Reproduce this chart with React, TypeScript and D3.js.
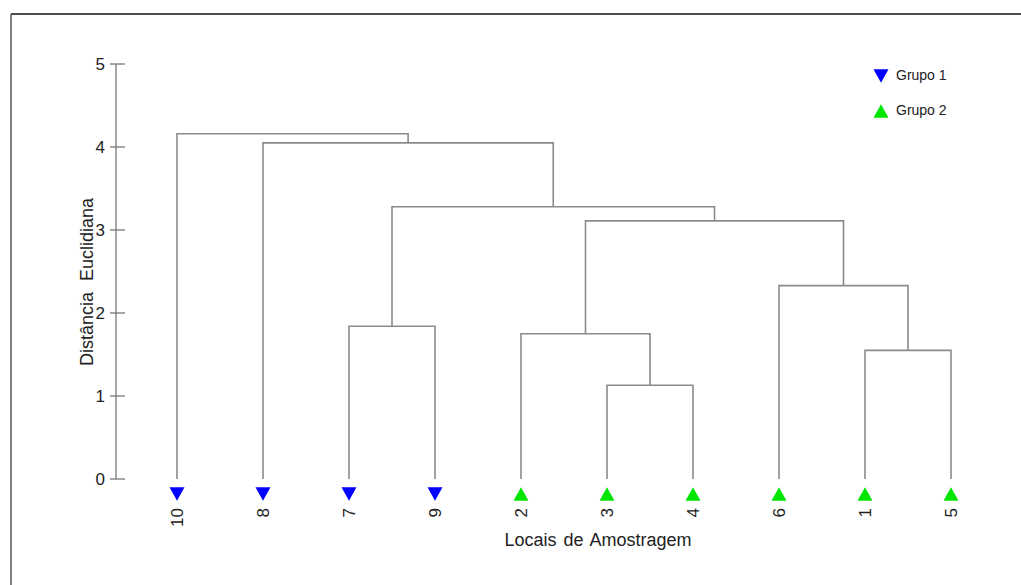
import React from "react";
import * as d3 from "d3";

const leafLabels = ["10", "8", "7", "9", "2", "3", "4", "6", "1", "5"];
const leafGroups = [1, 1, 1, 1, 2, 2, 2, 2, 2, 2];
// merges: [left, right, height, id]
const mergeLeft = ["3", "1", "7", "2", "6", "m4", "m3", "8", "10"];
const mergeRight = ["4", "5", "9", "m1", "m2", "m5", "m6", "m7", "m8"];
const mergeHeights = [1.13, 1.55, 1.84, 1.75, 2.33, 3.11, 3.28, 4.05, 4.16];
const mergeIds = ["m1", "m2", "m3", "m4", "m5", "m6", "m7", "m8", "m9"];
const yTicks = [0, 1, 2, 3, 4, 5];
const groupNames = ["Grupo 1", "Grupo 2"];
const groupColors = ["#0000ff", "#00e600"];

const W = 1021;
const H = 585;
const FONT = "'Liberation Sans', Arial, Helvetica, sans-serif";

export default function App() {
  const x = d3.scalePoint<string>().domain(leafLabels).range([177, 951]);
  const y = d3.scaleLinear().domain([0, 5]).range([479, 64]);

  const pos: Record<string, { x: number; h: number }> = {};
  leafLabels.forEach((l) => (pos[l] = { x: x(l) as number, h: 0 }));
  const paths: string[] = [];
  mergeIds.forEach((id, i) => {
    const a = pos[mergeLeft[i]];
    const b = pos[mergeRight[i]];
    const h = mergeHeights[i];
    const p = d3.path();
    p.moveTo(a.x, y(a.h));
    p.lineTo(a.x, y(h));
    p.lineTo(b.x, y(h));
    p.lineTo(b.x, y(b.h));
    paths.push(p.toString());
    pos[id] = { x: (a.x + b.x) / 2, h };
  });

  const tri = (cx: number, cy: number, down: boolean) => {
    const w = 7.5, hh = 6.7;
    return down
      ? `M${cx - w},${cy - hh}L${cx + w},${cy - hh}L${cx},${cy + hh}Z`
      : `M${cx - w},${cy + hh}L${cx + w},${cy + hh}L${cx},${cy - hh}Z`;
  };

  return (
    <svg
      width={W}
      height={H}
      style={{ position: "absolute", left: 0, top: 0, background: "#fff" }}
      fontFamily={FONT}
    >
      <rect x={0} y={0} width={W} height={H} fill="#fff" />
      {/* frame */}
      <line x1={11} y1={14} x2={W} y2={14} stroke="#111" strokeWidth={1.5} />
      <line x1={11} y1={14} x2={11} y2={H} stroke="#555" strokeWidth={1.5} />

      {/* y axis */}
      <line x1={116} y1={y(0)} x2={116} y2={y(5)} stroke="#777" strokeWidth={1.3} />
      {yTicks.map((t) => (
        <g key={t}>
          <line x1={110} x2={125} y1={y(t)} y2={y(t)} stroke="#777" strokeWidth={1.3} />
          <text x={105} y={y(t)} dy="0.36em" textAnchor="end" fontSize={17} fill="#222">
            {t}
          </text>
        </g>
      ))}
      <text
        transform={`translate(93,282) rotate(-90)`}
        textAnchor="middle"
        fontSize={18}
        fill="#222"
        wordSpacing={6}
      >
        Distância Euclidiana
      </text>

      {/* dendrogram */}
      {paths.map((d, i) => (
        <path key={i} d={d} fill="none" stroke="#8a8a8a" strokeWidth={1.6} />
      ))}

      {/* leaves */}
      {leafLabels.map((l, i) => {
        const cx = x(l) as number;
        const g = leafGroups[i];
        return (
          <g key={l}>
            <path d={tri(cx, 494, g === 1)} fill={groupColors[g - 1]} />
            <text
              transform={`translate(${cx},508) rotate(-90)`}
              textAnchor="end"
              dy="0.36em"
              fontSize={17}
              fill="#222"
            >
              {l}
            </text>
          </g>
        );
      })}
      <text x={598} y={546} textAnchor="middle" fontSize={18} fill="#222" wordSpacing={2}>
        Locais de Amostragem
      </text>

      {/* legend */}
      {groupNames.map((n, i) => {
        const cy = i === 0 ? 76 : 111;
        return (
          <g key={n}>
            <path d={tri(881, cy, i === 0)} fill={groupColors[i]} />
            <text x={896} y={cy + 4} fontSize={14} fill="#222">
              {n}
            </text>
          </g>
        );
      })}
    </svg>
  );
}
